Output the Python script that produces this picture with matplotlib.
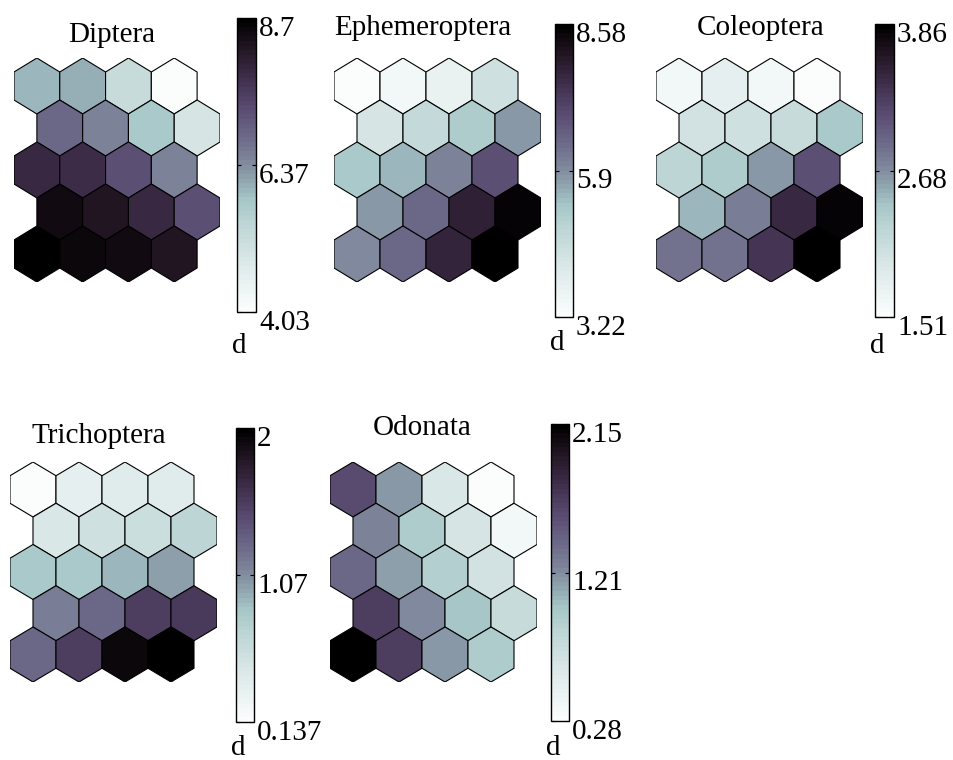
import numpy as np
import matplotlib
matplotlib.use('Agg')
import matplotlib.pyplot as plt
from matplotlib.collections import PolyCollection
from matplotlib.colors import LinearSegmentedColormap, Normalize

plt.rcParams['font.family'] = 'Liberation Serif'
plt.rcParams['font.size'] = 21

# Planos de componentes do SOM (grade hexagonal 5 linhas x 4 colunas)
nomes = ['Diptera', 'Ephemeroptera', 'Coleoptera', 'Trichoptera', 'Odonata']

diptera = [[5.99, 6.04, 5.20, 4.03],
           [6.83, 6.46, 5.76, 4.96],
           [7.86, 7.77, 7.21, 6.46],
           [8.47, 8.23, 7.86, 7.21],
           [8.70, 8.51, 8.42, 8.23]]

ephemeroptera = [[3.22, 3.49, 3.76, 4.40],
                 [4.29, 4.72, 5.10, 5.79],
                 [5.15, 5.47, 6.01, 6.86],
                 [5.79, 6.44, 7.78, 8.47],
                 [5.90, 6.44, 7.72, 8.58]]

coleoptera = [[1.63, 1.79, 1.65, 1.508],
              [2.00, 2.03, 2.12, 2.36],
              [2.22, 2.33, 2.64, 3.11],
              [2.47, 2.76, 3.44, 3.81],
              [2.85, 2.85, 3.34, 3.858]]

trichoptera = [[0.137, 0.36, 0.40, 0.42],
               [0.47, 0.55, 0.58, 0.70],
               [0.81, 0.83, 0.92, 1.01],
               [1.14, 1.25, 1.52, 1.54],
               [1.25, 1.52, 1.93, 2.0]]

odonata = [[1.59, 1.18, 0.62, 0.28],
           [1.27, 0.95, 0.64, 0.37],
           [1.40, 1.14, 0.90, 0.67],
           [1.66, 1.22, 0.99, 0.75],
           [2.15, 1.68, 1.18, 0.95]]

planos = [diptera, ephemeroptera, coleoptera, trichoptera, odonata]

# mapa de cores: branco -> azul-acinzentado -> roxo -> preto
cores = [(0.00, '#fbfdfd'), (0.15, '#dfeaea'), (0.30, '#bdd5d5'),
         (0.38, '#a6c6c7'), (0.46, '#8c9fab'), (0.52, '#7d8499'),
         (0.60, '#6c6888'), (0.70, '#594a70'), (0.80, '#3f2e4c'),
         (0.90, '#231624'), (1.00, '#000000')]
cmap = LinearSegmentedColormap.from_list('somcmap', cores, N=64)

W, H = 954, 760

def caixa(x0, y0, x1, y1):
    return [x0 / W, 1 - y1 / H, (x1 - x0) / W, (y1 - y0) / H]

# (hexagonos, barra de cores, titulo x, titulo y, 'd' y)
layout = [((14, 58, 220, 282), (237, 18, 256, 312), 112, 42, 353),
          ((334, 58, 541, 282), (555, 24, 573, 317), 423, 35, 350),
          ((656, 58, 863, 282), (875, 24, 894, 317), 761, 35, 353),
          ((10, 462, 217, 682), (236, 428, 254, 722), 99, 443, 755),
          ((330, 462, 537, 682), (551, 424, 569, 721), 422, 435, 755)]

r = 1 / np.sqrt(3)
ang = np.deg2rad(90 + 60 * np.arange(6))
hexagono = np.column_stack([r * np.cos(ang), r * np.sin(ang)])

fig = plt.figure(figsize=(W / 100, H / 100), dpi=100)

for nome, plano, (hb, cb, tx, ty, dy) in zip(nomes, planos, layout):
    valores = np.array(plano, dtype=float)
    nlin, ncol = valores.shape
    polys = []
    for i in range(nlin):
        for j in range(ncol):
            cx = j + 0.5 * (i % 2)
            cy = -i * np.sqrt(3) / 2
            polys.append(hexagono + [cx, cy])

    lo, hi = valores.min(), valores.max()
    norm = Normalize(vmin=lo, vmax=hi)

    ax = fig.add_axes(caixa(*hb))
    pc = PolyCollection(polys, cmap=cmap, norm=norm, edgecolors='black', linewidths=0.8)
    pc.set_array(valores.ravel())
    ax.add_collection(pc)
    ax.set_xlim(-0.5, ncol)
    ax.set_ylim(-(nlin - 1) * np.sqrt(3) / 2 - r, r)
    ax.axis('off')

    cax = fig.add_axes(caixa(*cb))
    cbar = fig.colorbar(pc, cax=cax)
    cbar.outline.set_linewidth(1.0)
    meio = (lo + hi) / 2
    cax.set_yticks([lo, meio, hi])
    cax.set_yticklabels([])
    cax.tick_params(axis='y', direction='in', length=3, width=0.8, left=True, right=True)
    for v in (lo, meio, hi):
        cax.annotate(f'{v:.3g}', xy=(1, v), xycoords=('axes fraction', 'data'),
                     xytext=(3, -18), textcoords='offset pixels',
                     ha='left', va='baseline')

    fig.text(tx / W, 1 - ty / H, nome, ha='center', va='baseline')
    fig.text((cb[0] + 2) / W, 1 - dy / H, 'd', ha='center', va='baseline')

fig.savefig('out.png', dpi=100)
